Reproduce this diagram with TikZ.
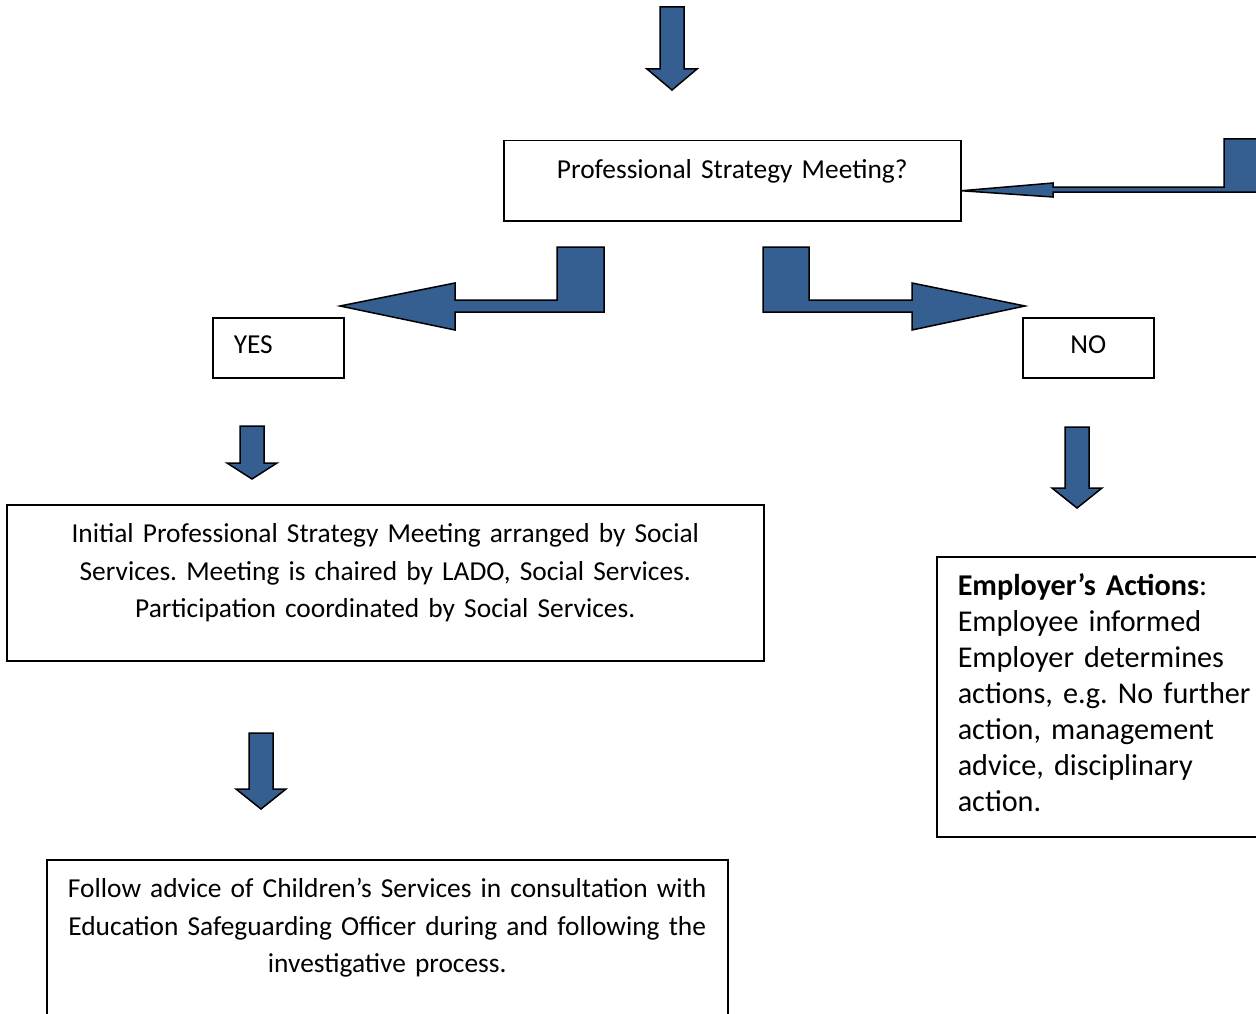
\documentclass[tikz,border=0pt]{standalone}
\usepackage{fontspec}
\setmainfont{Carlito}
\frenchspacing
\definecolor{arrowblue}{RGB}{54,95,145}

\begin{document}
\begin{tikzpicture}[x=1pt, y=-1pt,
    textbox/.style ={draw, line width=1.5pt, anchor=north west, inner ysep=0pt,
      font=\fontsize{27.4}{37.5}\selectfont},
    blockarrow/.style ={draw, line width=1.5pt, fill=arrowblue, line join=miter}]
   \useasboundingbox (0,0) rectangle (1256,1014);
   \node[textbox, inner xsep=0pt, text width=457pt, align=center,
     text height=38pt, text depth=42pt] (psm) at (503,140) {Professional Strategy Meeting?};
   \node[textbox, inner xsep=21pt, text width=89pt, align=left,
     text height=36pt, text depth=24pt] (yes) at (212,317) {YES};
   \node[textbox, inner xsep=0pt, text width=131pt, align=center,
     text height=36pt, text depth=24pt] (no) at (1022,317) {NO};
   \node[textbox, inner xsep=0pt, text width=757pt, align=center,
     text height=38pt, text depth=118pt] (initial) at (6,504)
     {Initial Professional Strategy Meeting arranged by Social\\
      Services. Meeting is chaired by LADO, Social Services.\\
      Participation coordinated by Social Services.};
   \node[textbox, inner xsep=21pt, text width=320pt, align=left,
     font=\fontsize{30.2}{36}\selectfont,
     text height=39pt, text depth=241pt] (employer) at (936,556)
     {\textbf{Employer’s Actions}:\\
      Employee informed\\
      Employer determines\\
      actions, e.g. No further\\
      action, management\\
      advice, disciplinary\\
      action.};
   \node[textbox, inner xsep=0pt, text width=681pt, align=center,
     text height=38pt, text depth=200pt] (follow) at (46,859)
     {Follow advice of Children’s Services in consultation with\\
      Education Safeguarding Officer during and following the\\
      investigative process.};
   \foreach \ax/\ya/\yb/\yc in {672/7/69/90, 252/426/463/479,
       1077/427/488/508, 261/733/789/809}
     \draw[blockarrow] (\ax-12,\ya) -- (\ax+12,\ya) -- (\ax+12,\yb) -- (\ax+25,\yb)
       -- (\ax,\yc) -- (\ax-25,\yb) -- (\ax-12,\yb) -- cycle;
   \draw[blockarrow] (604,247) -- (557,247) -- (557,300) -- (455,300) -- (455,283)
     -- (340,306) -- (455,330) -- (455,312) -- (604,312) -- cycle;
   \draw[blockarrow] (763,247) -- (809,247) -- (809,300) -- (912,300) -- (912,283)
     -- (1025,306) -- (912,330) -- (912,312) -- (763,312) -- cycle;
   \draw[blockarrow] ([yshift=-10pt]psm.east) -- (1053,183) -- (1053,187) -- (1224,187)
     -- (1224,139) -- (1270,139) -- (1270,192) -- (1053,192) -- (1053,197) -- cycle;
 \end{tikzpicture}
\end{document}
